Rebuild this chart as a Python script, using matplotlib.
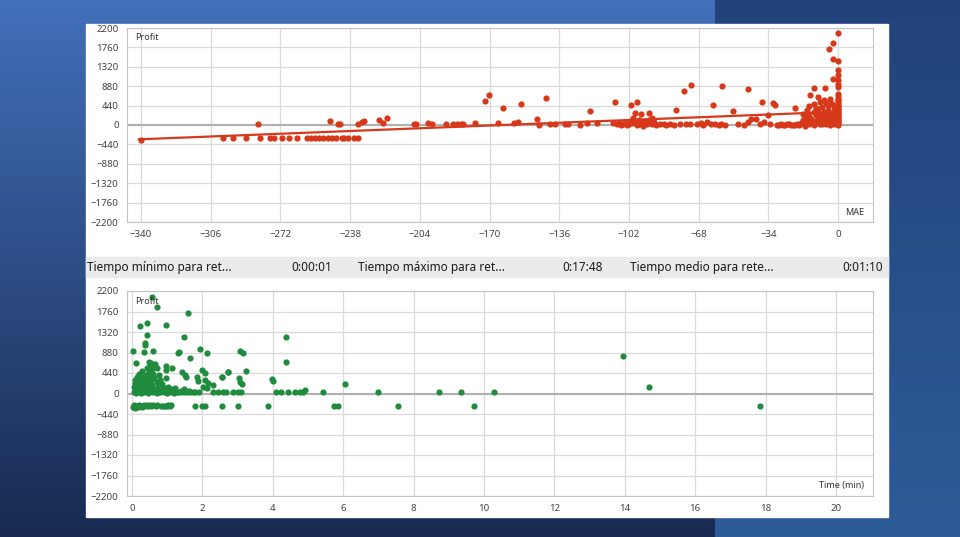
import numpy as np
import matplotlib.pyplot as plt
from matplotlib.patches import Rectangle

plt.rcParams['font.family'] = ['Noto Sans', 'DejaVu Sans']

# ---- top chart: MAE vs Profit ----
mae = [-340, -300, -295, -289, -282, -277, -275, -271, -268, -264, -259, -257, -255, -253,
       -251, -249, -247, -245, -242, -241, -239, -236, -234,
       -283, -248, -244, -243, -234, -232, -231, -224, -222, -220, -207, -206, -200, -198,
       -191, -188, -186, -184, -183, -177, -172, -170.5, -165.7, -163.6, -158, -156, -154.8,
       -147, -146, -142.6, -140.5, -138, -133, -131.7, -126, -122.6, -121, -117.7,
       -110, -109, -108, -107, -106, -105, -104, -103, -101, -100, -99, -99, -98, -97, -96,
       -95, -94, -93, -92, -91, -90, -89, -85, -82, -80, -79, -74, -72, -75, -71.6, -69, -67,
       -64, -62, -60.8, -60, -58, -57, -56.4, -51.5, -46, -44, -44, -42.4, -37.2, -38, -36,
       -34, -31.9, -30.7, -33, -30, -28, -26, -24, -22, -21,
       -102, -101, -100, -98, -97, -96, -95, -93, -92, -91, -87, -84, -77, -66, -55, -49, -40,
       -18, -17, -17, -16, -16, -15, -15, -14, -14, -14, -13, -13, -12, -12, -12, -11, -11,
       -10, -10, -10, -9, -9, -9, -8, -8, -8, -7, -7, -7, -6, -6, -6, -5, -5, -5, -4, -4, -4,
       -3, -3, -3, -2, -2, -2, -1, -1, -1, -19, -20, -21, -23, -25, -27, -29,
       -16, -13, -11, -8, -6, -4, -2, -15, -9, -3,
       0, 0, 0, 0, 0, 0, 0, 0, 0, 0, 0, 0, 0, 0, 0, 0, 0, 0, 0, 0, 0, 0, 0, 0, 0, 0, 0, 0,
       -2.3, -2.3, -2.3, -4.7, -6.3, -9.6, -12, -13.7]
profit_mae = [-330, -295, -290, -295, -290, -290, -290, -285, -285, -290, -290, -290, -285, -290,
              -285, -290, -285, -290, -290, -285, -290, -290, -285,
              25, 80, 25, 25, 25, 70, 100, 110, 45, 150, 25, 25, 35, 25,
              25, 25, 25, 30, 25, 50, 545, 675, 35, 395, 35, 75, 485,
              145, 0, 605, 25, 25, 25, 25, 0, 35, 318, 35,
              50, 515, 25, 40, 0, 25, 60, 10, 460, 150, 265, 60, 530, 25, 243,
              0, 90, 30, 265, 150, 60, 0, 25, 25, 0, 333, 25, 30, 763, 915, 25, 40,
              75, 25, 447, 25, 0, 25, 890, 325, 0, 60, 815, 128, 530, 25, 75,
              227, 490, 460, 25, 0, 25, 0, 25, 10, 395,
              20, 100, 40, 0, 120, 60, -20, 45, 110, 15, 25, 0, 20, 10, 0, 25, 140,
              40, 120, 260, 15, 180, 90, 330, 30, 210, 420, 140, 60, 300, 10, 480, 90, 220,
              40, 360, 160, 520, 100, 260, 20, 190, 410, 70, 300, 560, 130, 30, 240, 450, 80, 350, 10, 180, 600,
              280, 60, 120, 20, 400, 210, 90, 320, 40, 0, 20, 5, 10, 20, 0, 10,
              -20, 100, 380, 250, 500, 120, 290, 220, 30, 470,
              0, 30, 60, 90, 120, 150, 180, 210, 240, 270, 300, 330, 360, 400, 440, 480, 520, 560,
              600, 650, 700, 869, 923, 1020, 1134, 1247, 1451, 2080,
              1036, 1490, 1853, 1724, 846, 642, 846, 680]
trend_mae = [-341, 0]
trend_profit = [-325, 300]

# ---- bottom chart: holding time vs Profit ----
time_min = [0.56, 0.71, 1.58, 0.24, 0.42, 0.97, 0.43, 1.49, 0.38, 0.38, 0.03, 0.33, 0.59, 1.3,
            1.33, 1.65, 1.94, 2.13, 3.07, 3.16, 0.11, 0.49, 0.54, 4.38, 4.38, 3.24, 2.73, 2.56,
            3.05, 3.07, 3.99, 4.01, 6.05, 4.08, 4.24, 4.44, 4.63, 4.77, 4.86, 4.93, 5.44, 7.0,
            8.73, 9.34, 10.29, 13.94, 14.7, 17.84,
            0.7, 0.97, 0.98, 1.13, 1.41, 1.5, 1.55, 1.98, 2.07, 1.84, 1.88, 2.07, 2.17, 2.03,
            2.12, 2.31, 2.55, 2.74, 3.12, 2.44, 2.58, 2.68, 2.87, 3.01, 3.1,
            0.05, 0.06, 0.08, 0.1, 0.1, 0.12, 0.13, 0.15, 0.16, 0.18, 0.2, 0.2, 0.22, 0.24, 0.25,
            0.27, 0.28, 0.3, 0.3, 0.32, 0.33, 0.35, 0.36, 0.38, 0.4, 0.4, 0.42, 0.43, 0.45, 0.46,
            0.47, 0.48, 0.5, 0.5, 0.52, 0.53, 0.55, 0.56, 0.58, 0.6, 0.6, 0.62, 0.64, 0.65, 0.67,
            0.7, 0.72, 0.74, 0.76, 0.8, 0.8, 0.83, 0.86, 0.9, 0.92, 0.95, 0.98, 1.0, 1.03, 1.06,
            1.1, 1.12, 1.16, 1.2, 1.22, 1.27, 1.33, 1.38, 1.42, 1.47, 1.52, 1.58, 1.62, 1.68,
            1.75, 1.8, 1.9, 2.3,
            0.03, 0.06, 0.08, 0.1, 0.14, 0.17, 0.2, 0.23, 0.26, 0.3, 0.33, 0.37, 0.42, 0.46, 0.5,
            0.55, 0.6, 0.67, 0.72, 0.82, 0.88, 0.95, 1.0, 1.03, 1.08, 1.12, 1.78, 1.98, 2.08,
            2.55, 3.02, 3.87, 5.74, 5.86, 7.57, 9.71]
profit_time = [2077, 1863, 1721, 1455, 1506, 1470, 1255, 1219, 1077, 1040, 918, 897, 918, 862,
               897, 768, 955, 862, 912, 862, 661, 683, 648, 1219, 669, 489, 455, 348,
               326, 253, 305, 268, 204, 25, 25, 25, 25, 25, 40, 75, 25, 25,
               25, 25, 25, 811, 147, -261,
               540, 590, 504, 540, 468, 397, 347, 504, 447, 347, 275, 290, 218, 146,
               111, 182, 347, 468, 204, 39, 39, 39, 39, 39, 39,
               40, 150, 300, 80, 220, 10, 360, 120, 260, 50, 180, 420, 90, 310, 20,
               230, 140, 480, 60, 350, 200, 30, 270, 110, 400, 170, 550, 70, 320, 15,
               240, 460, 130, 600, 380, 50, 280, 520, 190, 30, 420, 100, 330, 640, 60,
               250, 20, 150, 400, 40, 300, 90, 200, 30, 120, 60, 340, 20, 150, 50,
               90, 30, 60, 20, 120, 40, 25, 60, 25, 100, 30, 25, 60, 25,
               30, 25, 25, 25,
               -290, -250, -310, -270, -260, -280, -250, -270, -260, -280, -255, -270, -250, -265, -255,
               -270, -255, -265, -255, -260, -260, -265, -260, -255, -260, -255, -260, -265, -265,
               -265, -265, -265, -265, -265, -265, -265]

yticks = list(range(-2200, 2201, 440))
mae_ticks = list(range(-340, 1, 34))
time_ticks = list(range(0, 21, 2))

W, H = 960, 537
fig = plt.figure(figsize=(W / 100, H / 100), dpi=100)

# background
bg = fig.add_axes([0, 0, 1, 1])
top_l = np.array([66, 112, 186]) / 255
bot_l = np.array([24, 42, 80]) / 255
top_r = np.array([34, 66, 122]) / 255
bot_r = np.array([46, 92, 152]) / 255
t = np.linspace(0, 1, H)[:, None]
img = np.zeros((H, W, 3))
left = top_l + (bot_l - top_l) * t
right = top_r + (bot_r - top_r) * t
img[:, :715] = left[:, None, :]
img[:, 715:] = right[:, None, :]
bg.imshow(img, extent=(0, W, H, 0), aspect='auto')
bg.set_xlim(0, W)
bg.set_ylim(H, 0)
bg.axis('off')
bg.add_patch(Rectangle((86, 24), 802, 493, color='white'))
bg.add_patch(Rectangle((86, 257), 802, 20, color='#ebebeb'))
strip = [("Tiempo mínimo para ret...", 87, "0:00:01", 332),
         ("Tiempo máximo para ret...", 358, "0:17:48", 603),
         ("Tiempo medio para rete...", 630, "0:01:10", 883)]
for lab, x0, val, x1 in strip:
    bg.text(x0, 267.5, lab, fontsize=8.5, va='center', ha='left', color='#1a1a1a')
    bg.text(x1, 267.5, val, fontsize=8.5, va='center', ha='right', color='#1a1a1a')


def style(ax, xticks, xlim, corner):
    ax.set_xlim(*xlim)
    ax.set_xticks(xticks)
    ax.set_ylim(-2200, 2200)
    ax.set_yticks(yticks)
    ax.grid(color='#dadada', lw=0.9)
    ax.set_axisbelow(True)
    ax.axhline(0, color='#b0b0b0', lw=1.5, zorder=1)
    for s in ax.spines.values():
        s.set_color('#c4c4c4')
    ax.tick_params(length=0, labelsize=7, colors='#444444', pad=6)
    ax.text(0.011, 0.95, 'Profit', transform=ax.transAxes, fontsize=6.5,
            va='center', color='#333333')
    ax.text(0.988, 0.05, corner, transform=ax.transAxes, fontsize=6.5,
            va='center', ha='right', color='#333333')


ax1 = fig.add_axes([127 / W, 1 - 222 / H, 746 / W, 194 / H])
ax1.scatter(mae, profit_mae, s=20, color='#d8381a', linewidths=0, zorder=3)
ax1.plot(trend_mae, trend_profit, color='#d8381a', lw=1.6, zorder=3)
style(ax1, mae_ticks, (-346.8, 17), 'MAE')

ax2 = fig.add_axes([127 / W, 1 - 496 / H, 746 / W, 205 / H])
ax2.scatter(time_min, profit_time, s=20, color='#1e8c3c', linewidths=0, zorder=3)
style(ax2, time_ticks, (-0.14, 21.05), 'Time (min)')

fig.savefig('out.png', dpi=100)
